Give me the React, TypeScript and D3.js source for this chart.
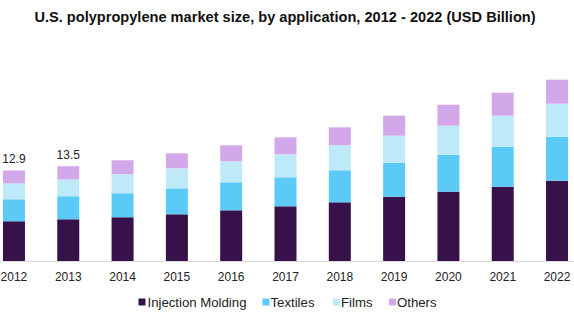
import React from "react";
import * as d3 from "d3";

const years = ["2012", "2013", "2014", "2015", "2016", "2017", "2018", "2019", "2020", "2021", "2022"];
const injectionMolding = [5.66, 5.94, 6.23, 6.65, 7.22, 7.79, 8.36, 9.16, 9.87, 10.58, 11.44];
const textiles = [3.13, 3.28, 3.42, 3.7, 3.99, 4.13, 4.56, 4.84, 5.27, 5.7, 6.27];
const films = [2.28, 2.42, 2.71, 2.85, 2.99, 3.28, 3.56, 3.85, 4.13, 4.42, 4.7];
const others = [1.83, 1.86, 1.99, 2.14, 2.28, 2.42, 2.56, 2.85, 2.99, 3.28, 3.42];
const seriesNames = ["Injection Molding", "Textiles", "Films", "Others"];
const seriesColors = ["#37114a", "#5bcaf6", "#bee9f9", "#d3a8eb"];
const totalLabels: (string | null)[] = ["12.9", "13.5", null, null, null, null, null, null, null, null, null];

const W = 574;
const H = 319;
const baseY = 261;
const pxPerUnit = 7.02;

export default function App() {
  const table = years.map((y, i) => ({
    year: y,
    "Injection Molding": injectionMolding[i],
    Textiles: textiles[i],
    Films: films[i],
    Others: others[i],
  }));
  const stack = d3.stack<any>().keys(seriesNames)(table);
  const x = d3.scaleBand().domain(years).range([-13.2, 584.2]).paddingInner(0.595).paddingOuter(0.2975);
  const yMax = baseY / pxPerUnit;
  const y = d3.scaleLinear().domain([0, yMax]).range([baseY, 0]);
  const font = "'Liberation Sans', Arial, sans-serif";

  const legendItems = [
    { name: "Injection Molding", sx: 138.5, tx: 147.5 },
    { name: "Textiles", sx: 262.5, tx: 270.5 },
    { name: "Films", sx: 333, tx: 341 },
    { name: "Others", sx: 389, tx: 397 },
  ];

  return (
    <svg width={W} height={H} style={{ position: "absolute", left: 0, top: 0, background: "#fff" }} fontFamily={font}>
      <text x={285} y={22} textAnchor="middle" fontSize={14.6} fontWeight="bold" fill="#111">
        U.S. polypropylene market size, by application, 2012 - 2022 (USD Billion)
      </text>
      {stack.map((s, si) => (
        <g key={s.key} fill={seriesColors[si]}>
          {s.map((d, i) => (
            <rect
              key={i}
              x={x(years[i])!}
              width={x.bandwidth()}
              y={y(d[1])}
              height={y(d[0]) - y(d[1])}
            />
          ))}
        </g>
      ))}
      <line x1={0} x2={W} y1={baseY + 0.5} y2={baseY + 0.5} stroke="#d9d9d9" strokeWidth={1} />
      {years.map((yr) => (
        <text key={yr} x={x(yr)! + x.bandwidth() / 2} y={281} textAnchor="middle" fontSize={12} fill="#222">
          {yr}
        </text>
      ))}
      {years.map((yr, i) => {
        const lbl = totalLabels[i];
        if (!lbl) return null;
        const tot = stack[stack.length - 1][i][1];
        return (
          <text key={"l" + yr} x={x(yr)! + x.bandwidth() / 2} y={y(tot) - 7} textAnchor="middle" fontSize={12} fill="#222">
            {lbl}
          </text>
        );
      })}
      {legendItems.map((it, i) => (
        <g key={it.name}>
          <rect x={it.sx} y={298.5} width={7} height={7} fill={seriesColors[i]} />
          <text x={it.tx} y={307} fontSize={13.2} fill="#222">
            {it.name}
          </text>
        </g>
      ))}
    </svg>
  );
}
